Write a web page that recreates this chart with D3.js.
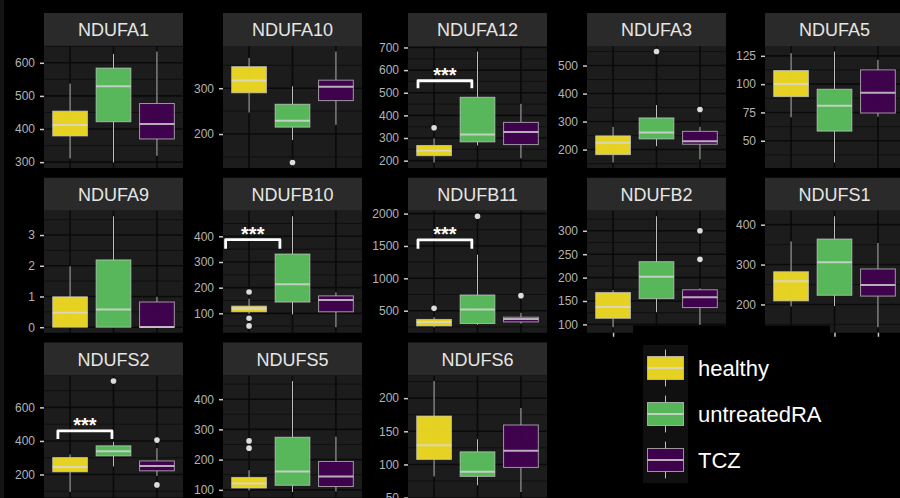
<!DOCTYPE html>
<html>
<head>
<meta charset="utf-8">
<script src="https://cdn.jsdelivr.net/npm/d3@7"></script>
<style>
  html, body { margin: 0; padding: 0; background: #000; }
  svg { display: block; font-family: "Liberation Sans", Arial, sans-serif; }
</style>
</head>
<body>
<script>
// ---------------- DATA ----------------
const genes = ["NDUFA1","NDUFA10","NDUFA12","NDUFA3","NDUFA5",
               "NDUFA9","NDUFB10","NDUFB11","NDUFB2","NDUFS1",
               "NDUFS2","NDUFS5","NDUFS6"];
const groups = ["healthy","untreatedRA","TCZ"];
const groupColors = ["#fde725","#5ec962","#440154"];

// per gene: [healthy, untreatedRA, TCZ]
const whiskerLow = [
  [311,299,319],[247,187,220],[192,267,210],[154,212,165],[70.7,30.8,71.2],
  [0,0,0],[98,96,46],[245,281,302],[94,126,99],[195,196,143],
  [96,248,192],[98,93,95],[81.8,68.6,58.5]];
const q1 = [
  [379,422,370],[290,215,273],[222,283,271],[182,238,219],[89,58.5,74.5],
  [0,0,0],[106,144,106],[265,302,327],[113,155,136],[209,223,221],
  [216,311,222],[106,115,111],[107.6,82,95.5]];
const median = [
  [412,529,415],[317,229,303],[244,315,327],[224,261,230],[100.2,81,92.5],
  [0.47,0.58,0.01],[119,213,152],[327,520,370],[137,202,158],[258,306,249],
  [245,339,251],[121,161,144],[129,89,120.6]];
const q3 = [
  [454,584,477],[347,265,317.5],[267,480,369],[249,313,265],[112,95.5,112.6],
  [0.99,2.19,0.82],[128,331,168],[365,743,400],[168,234,174],[282,364,289],
  [301,371,281],[141,274,194],[173,119,159.5]];
const whiskerHigh = [
  [537,627,634],[366,304,380],[298,682,451],[281,359,281],[127.4,128.8,121.5],
  [1.98,3.61,0.99],[157,478,182],[400,1366,467],[173,331,177],[358,421,354],
  [319,395,357],[165,460,276],[225.8,138,185]];
const outliers = [
  [[],[],[]],[[],[138],[]],[[345],[],[]],[[],[550],[343]],[[],[],[]],
  [[],[],[]],[[183,81,51],[],[]],[[536],[1958],[732]],[[],[],[300,239]],[[],[],[]],
  [[],[757],[405,138]],[[262,238],[],[]],[[],[],[]]];
const yTicks = [
  [300,400,500,600],[200,300],[200,300,400,500,600,700],[200,300,400,500],[50,75,100,125],
  [0,1,2,3],[100,200,300,400],[500,1000,1500,2000],[100,150,200,250,300],[200,300,400],
  [200,400,600],[100,200,300,400],[50,100,150,200]];

// significance brackets (healthy vs untreatedRA)
const signifGenes = ["NDUFA12","NDUFB10","NDUFB11","NDUFS2"];
const signifY     = [553, 387, 1595, 460];
const signifTip   = [520, 352, 1455, 411];
const signifXmin  = [0.63, 0.46, 0.63, 0.72];
const signifXmax  = [1.87, 1.71, 1.87, 1.965];
const signifLabel = ["***","***","***","***"];

// ---------------- LAYOUT ----------------
const W = 900, H = 498;
const colLeft = [44, 223, 408, 587, 765];
const panelW = 139, stripH = 33, panelH = 122;
const rowTop = r => 13 + r * 164.75;

const svg = d3.select("body").append("svg").attr("width", W).attr("height", H);
svg.append("rect").attr("width", W).attr("height", H).attr("fill", "#000");
svg.append("rect").attr("x", 0).attr("y", 0).attr("width", 4).attr("height", H).attr("fill", "#141414");

const boxStroke = "#cfcfcf";

genes.forEach((gene, i) => {
  const r = Math.floor(i / 5), c = i % 5;
  const x0 = colLeft[c], sTop = rowTop(r), pTop = sTop + stripH, pBot = pTop + panelH;
  const g = svg.append("g");

  // strip
  g.append("rect").attr("x", x0).attr("y", sTop).attr("width", panelW).attr("height", stripH).attr("fill", "#2a2a2a");
  g.append("text").attr("x", x0 + panelW / 2).attr("y", sTop + stripH / 2 + 6.5)
    .attr("text-anchor", "middle").attr("fill", "#e6e6e6").attr("font-size", 18).text(gene);

  // panel bg
  g.append("rect").attr("x", x0).attr("y", pTop).attr("width", panelW).attr("height", panelH).attr("fill", "#1c1c1c");

  // scales
  const si = signifGenes.indexOf(gene);
  const vals = [...whiskerLow[i], ...whiskerHigh[i], ...outliers[i].flat()];
  if (si >= 0) vals.push(signifY[si], signifTip[si]);
  const [mn, mx] = d3.extent(vals);
  const pad = (mx - mn) * 0.05;
  const y = d3.scaleLinear().domain([mn - pad, mx + pad]).range([pBot, pTop]);
  const x = d3.scalePoint().domain(groups).range([x0, x0 + panelW]).padding(0.6);
  const step = x.step();
  const bw = step * 0.8;

  // grid: minor
  const ticks = yTicks[i];
  const tstep = ticks[1] - ticks[0];
  const [d0, d1] = y.domain();
  const minors = [];
  for (let v = ticks[0] - tstep / 2 - tstep * 10; v <= d1; v += tstep) {
    if (v >= d0 && v <= d1) minors.push(v);
  }
  g.selectAll(null).data(minors).enter().append("line")
    .attr("x1", x0).attr("x2", x0 + panelW).attr("y1", d => y(d)).attr("y2", d => y(d))
    .attr("stroke", "#0c0c0c").attr("stroke-width", 0.8);
  g.selectAll(null).data(ticks.filter(t => t >= d0 && t <= d1)).enter().append("line")
    .attr("x1", x0).attr("x2", x0 + panelW).attr("y1", d => y(d)).attr("y2", d => y(d))
    .attr("stroke", "#0a0a0a").attr("stroke-width", 1.6);
  g.selectAll(null).data(groups).enter().append("line")
    .attr("x1", d => x(d)).attr("x2", d => x(d)).attr("y1", pTop).attr("y2", pBot)
    .attr("stroke", "#0a0a0a").attr("stroke-width", 1.6);

  // boxplots
  groups.forEach((grp, k) => {
    const cx = x(grp);
    g.append("line").attr("x1", cx).attr("x2", cx).attr("y1", y(q3[i][k])).attr("y2", y(whiskerHigh[i][k]))
      .attr("stroke", "#bdbdbd").attr("stroke-width", 1);
    g.append("line").attr("x1", cx).attr("x2", cx).attr("y1", y(q1[i][k])).attr("y2", y(whiskerLow[i][k]))
      .attr("stroke", "#bdbdbd").attr("stroke-width", 1);
    g.append("rect").attr("x", cx - bw / 2).attr("y", y(q3[i][k]))
      .attr("width", bw).attr("height", Math.max(0.5, y(q1[i][k]) - y(q3[i][k])))
      .attr("fill", groupColors[k]).attr("fill-opacity", 0.9)
      .attr("stroke", boxStroke).attr("stroke-opacity", 0.7).attr("stroke-width", 1);
    g.append("line").attr("x1", cx - bw / 2).attr("x2", cx + bw / 2)
      .attr("y1", y(median[i][k])).attr("y2", y(median[i][k]))
      .attr("stroke", "#d8d8d8").attr("stroke-opacity", 0.8).attr("stroke-width", 2);
    g.selectAll(null).data(outliers[i][k]).enter().append("circle")
      .attr("cx", cx).attr("cy", d => y(d)).attr("r", 2.8).attr("fill", "#dcdcdc");
  });

  // significance bracket
  if (si >= 0) {
    const xa = x(groups[0]) + (signifXmin[si] - 1) * step;
    const xb = x(groups[0]) + (signifXmax[si] - 1) * step;
    const yb = y(signifY[si]), yt = y(signifTip[si]);
    g.append("path").attr("d", `M${xa},${yt}V${yb}H${xb}V${yt}`)
      .attr("fill", "none").attr("stroke", "#fff").attr("stroke-width", 2.8)
      .attr("stroke-linejoin", "round");
    g.append("text").attr("x", (xa + xb) / 2).attr("y", yb + 1)
      .attr("text-anchor", "middle").attr("fill", "#fff").attr("font-size", 20)
      .attr("font-weight", "bold").text(signifLabel[si]);
  }

  // y axis
  const ax = g.append("g").attr("transform", `translate(${x0},0)`)
    .call(d3.axisLeft(y).tickValues(ticks).tickSize(4).tickPadding(5).tickFormat(d3.format("d")));
  ax.select(".domain").remove();
  ax.selectAll(".tick line").attr("stroke", "#cccccc").attr("stroke-width", 1.5);
  ax.selectAll(".tick text").attr("fill", "#b3b3b3").attr("font-size", 12)
    .attr("font-family", "Liberation Sans, Arial, sans-serif");

  // x axis ticks where no panel below (row 2, columns 4-5)
  if (r === 1 && c >= 3) {
    const xa = g.append("g").attr("transform", `translate(0,${pBot})`)
      .call(d3.axisBottom(x).tickSize(4).tickFormat(""));
    xa.select(".domain").remove();
    xa.selectAll(".tick line").attr("stroke", "#cccccc").attr("stroke-width", 1.5);
  }
});

// ---------------- LEGEND ----------------
const leg = svg.append("g");
leg.append("rect").attr("x", 633).attr("y", 325.5).attr("width", 197).attr("height", H - 325.5).attr("fill", "#000");
const keyX = 643, keyY = 345, keyS = 46, keyW = 45;
groups.forEach((grp, k) => {
  const ky = keyY + k * keyS;
  leg.append("rect").attr("x", keyX).attr("y", ky).attr("width", keyW).attr("height", keyS).attr("fill", "#101010");
  const cx = keyX + keyW / 2;
  leg.append("line").attr("x1", cx).attr("x2", cx).attr("y1", ky + keyS * 0.1).attr("y2", ky + keyS * 0.25)
    .attr("stroke", "#bdbdbd").attr("stroke-width", 1);
  leg.append("line").attr("x1", cx).attr("x2", cx).attr("y1", ky + keyS * 0.75).attr("y2", ky + keyS * 0.9)
    .attr("stroke", "#bdbdbd").attr("stroke-width", 1);
  leg.append("rect").attr("x", keyX + keyW * 0.1).attr("y", ky + keyS * 0.25)
    .attr("width", keyW * 0.8).attr("height", keyS * 0.5)
    .attr("fill", groupColors[k]).attr("fill-opacity", 0.9)
    .attr("stroke", boxStroke).attr("stroke-opacity", 0.7).attr("stroke-width", 1);
  leg.append("line").attr("x1", keyX + keyW * 0.1).attr("x2", keyX + keyW * 0.9)
    .attr("y1", ky + keyS / 2).attr("y2", ky + keyS / 2)
    .attr("stroke", "#d8d8d8").attr("stroke-opacity", 0.8).attr("stroke-width", 2);
  leg.append("text").attr("x", 698).attr("y", ky + keyS / 2 + 8)
    .attr("fill", "#ffffff").attr("font-size", 22).text(grp);
});
</script>
</body>
</html>
